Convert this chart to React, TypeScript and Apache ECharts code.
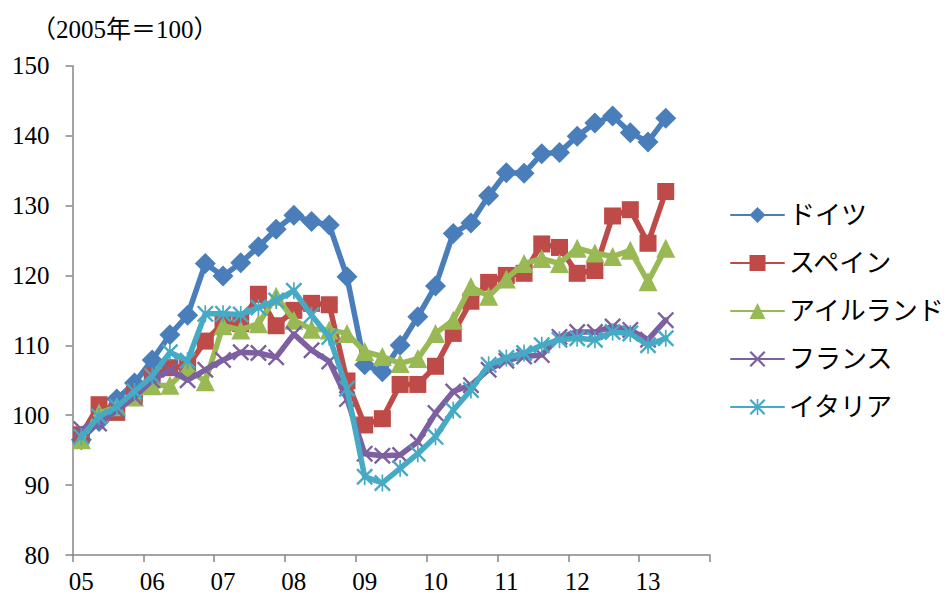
import React, { useEffect, useRef } from "react";
import * as echarts from "echarts";

const years = ["05", "06", "07", "08", "09", "10", "11", "12", "13"];
const quarters = ["Q1", "Q2", "Q3", "Q4"];
const categories: string[] = [];
years.forEach((y) => quarters.forEach((q) => categories.push(y + q)));

const seriesNames = ["ドイツ", "スペイン", "アイルランド", "フランス", "イタリア"];

const germany = [96.5, 99.1, 102.3, 104.6, 107.9, 111.5, 114.3, 121.7, 119.9, 121.8, 124.1, 126.6, 128.6, 127.7, 127.2, 119.8, 107.2, 106.2, 110.0, 114.1, 118.5, 126.0, 127.5, 131.4, 134.7, 134.6, 137.4, 137.6, 139.9, 141.8, 142.8, 140.4, 139.1, 142.5];
const spain = [97.2, 101.5, 100.4, 103.0, 105.6, 106.8, 107.0, 110.6, 113.2, 113.1, 117.3, 112.8, 115.0, 116.0, 115.8, 104.9, 98.6, 99.5, 104.4, 104.4, 107.0, 111.7, 116.3, 119.0, 120.0, 120.3, 124.5, 124.0, 120.3, 120.7, 128.5, 129.4, 124.6, 132.0];
const ireland = [96.5, 100.3, 101.2, 102.6, 104.2, 104.3, 106.7, 104.8, 112.8, 112.2, 113.1, 117.0, 113.6, 112.3, 112.2, 111.7, 109.1, 108.4, 107.4, 108.1, 111.7, 113.6, 118.4, 117.0, 119.5, 121.7, 122.4, 121.7, 123.9, 123.2, 122.7, 123.6, 119.1, 123.9];
const france = [98.0, 98.8, 100.7, 102.6, 105.0, 106.5, 105.0, 106.5, 107.9, 109.0, 108.9, 108.3, 111.6, 109.3, 107.7, 102.3, 94.5, 94.2, 94.3, 96.2, 100.3, 103.4, 104.3, 106.5, 107.8, 108.4, 108.6, 111.2, 111.9, 111.9, 112.7, 112.2, 110.8, 113.6];
const italy = [96.9, 99.8, 101.2, 103.4, 105.6, 109.0, 107.8, 114.5, 114.5, 114.4, 115.4, 116.4, 117.8, 114.3, 111.2, 103.8, 91.2, 90.3, 92.4, 94.5, 96.9, 100.7, 103.6, 107.2, 108.2, 108.9, 110.0, 110.8, 111.0, 110.8, 111.9, 111.7, 110.0, 111.0];

const colors = ["#4A7EBB", "#BE4B48", "#98B954", "#7D60A0", "#46AAC5"];

const crossPath =
  "path://M2,0 L10,8 L18,0 L20,2 L12,10 L20,18 L18,20 L10,12 L2,20 L0,18 L8,10 L0,2 Z";
const starPath =
  "path://M2,0 L10,8 L18,0 L20,2 L12,10 L20,18 L18,20 L10,12 L2,20 L0,18 L8,10 L0,2 Z M9,0 L11,0 L11,20 L9,20 Z";

const FONT = "'Liberation Serif', 'Noto Sans CJK JP', serif";

export default function App() {
  const ref = useRef<HTMLDivElement>(null);
  useEffect(() => {
    if (!ref.current) return;
    const chart = echarts.init(ref.current, undefined, { renderer: "svg" });
    const datasets = [germany, spain, ireland, france, italy];
    const symbols = ["diamond", "rect", "triangle", crossPath, starPath];
    const sizes = [21, 17, 19, 17, 17];
    chart.setOption({
      animation: false,
      backgroundColor: "#ffffff",
      textStyle: { fontFamily: FONT },
      title: {
        text: "（2005年＝100）",
        left: 26,
        top: 12,
        textStyle: { fontFamily: FONT, fontSize: 25, fontWeight: "normal", color: "#000" },
      },
      legend: {
        orient: "vertical",
        left: 725,
        top: 197,
        itemWidth: 53,
        itemHeight: 20,
        itemGap: 22,
        data: seriesNames,
        textStyle: { fontFamily: FONT, fontSize: 26, color: "#000", lineHeight: 26 },
      },
      grid: { left: 72.5, right: 241, top: 65.7, bottom: 40, containLabel: false },
      xAxis: {
        type: "category",
        data: categories,
        boundaryGap: true,
        axisLine: { lineStyle: { color: "#868686", width: 1.5 } },
        axisTick: { show: true, interval: 3, length: 7, lineStyle: { color: "#868686", width: 1.5 } },
        axisLabel: {
          interval: 3,
          margin: 14,
          fontFamily: FONT,
          fontSize: 25,
          color: "#000",
          formatter: (v: string) => v.slice(0, 2),
        },
        splitLine: { show: false },
      },
      yAxis: {
        type: "value",
        min: 80,
        max: 150,
        interval: 10,
        axisLine: { show: true, lineStyle: { color: "#868686", width: 1.5 } },
        axisTick: { show: true, length: 7, lineStyle: { color: "#868686", width: 1.5 } },
        axisLabel: { margin: 23, fontFamily: FONT, fontSize: 25, color: "#000" },
        splitLine: { show: false },
      },
      series: seriesNames.map((name, i) => ({
        name,
        type: "line",
        data: datasets[i],
        symbol: symbols[i],
        symbolSize: sizes[i],
        showSymbol: true,
        showAllSymbol: true,
        color: colors[i],
        lineStyle: { color: colors[i], width: 5.5, cap: "round", join: "round" },
        itemStyle: { color: colors[i] },
        z: 2 + i,
      })),
    });
    return () => chart.dispose();
  }, []);
  return (
    <div
      ref={ref}
      style={{ position: "fixed", left: 0, top: 0, width: 951, height: 595, background: "#fff" }}
    />
  );
}
